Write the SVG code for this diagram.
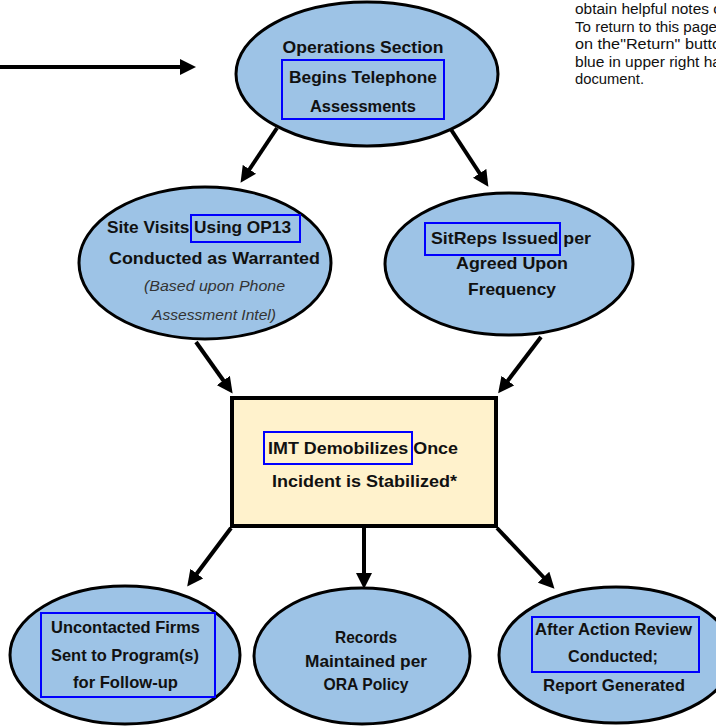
<svg xmlns="http://www.w3.org/2000/svg" width="716" height="727" viewBox="0 0 716 727">
<defs>
<style>
.ell{fill:#9DC3E6;stroke:#000;stroke-width:3}
.box{fill:#FFF2CC;stroke:#000;stroke-width:4}
.hl{fill:none;stroke:#0000FF;stroke-width:2}
.t{font-family:"Liberation Sans",Arial,sans-serif;font-weight:bold;font-size:16.5px;fill:#111;text-anchor:middle}
.ti{font-family:"Liberation Sans",Arial,sans-serif;font-style:italic;font-size:15px;fill:#333;text-anchor:middle}
.note{font-family:"Liberation Sans",Arial,sans-serif;font-size:14px;fill:#111}
.c{stroke:#000;stroke-width:4;fill:none;marker-end:url(#ah)}
</style>
<marker id="ah" markerWidth="4" markerHeight="4" refX="2" refY="2" orient="auto" markerUnits="strokeWidth">
<path d="M0,0 L4,2 L0,4 Z" fill="#000"/>
</marker>
</defs>
<rect width="716" height="727" fill="#fff"/>

<g id="note">
<text class="note" x="575" y="14" textLength="146" lengthAdjust="spacingAndGlyphs">obtain helpful notes c</text>
<text class="note" x="575" y="31.5" textLength="142" lengthAdjust="spacingAndGlyphs">To return to this page</text>
<text class="note" x="575" y="49" textLength="146" lengthAdjust="spacingAndGlyphs">on the"Return" butto</text>
<text class="note" x="575" y="66.5" textLength="146" lengthAdjust="spacingAndGlyphs">blue in upper right ha</text>
<text class="note" x="575" y="84" textLength="69" lengthAdjust="spacingAndGlyphs">document.</text>
</g>

<g id="connectors">
<line class="c" x1="0" y1="67" x2="188" y2="67"/>
<line class="c" x1="277" y1="128" x2="245" y2="176"/>
<line class="c" x1="450" y1="128" x2="484" y2="180"/>
<line class="c" x1="196" y1="342" x2="228" y2="387"/>
<line class="c" x1="541" y1="337" x2="503" y2="387"/>
<line class="c" x1="231" y1="528" x2="192" y2="580"/>
<line class="c" x1="364" y1="528" x2="364" y2="581"/>
<line class="c" x1="497" y1="528" x2="549" y2="583"/>
</g>

<g id="ops">
<ellipse class="ell" cx="367" cy="74" rx="131" ry="72"/>
<text class="t" x="363" y="53" textLength="161" lengthAdjust="spacingAndGlyphs">Operations Section</text>
<rect class="hl" x="282" y="60" width="162" height="59"/>
<text class="t" x="363" y="83" textLength="148" lengthAdjust="spacingAndGlyphs">Begins Telephone</text>
<text class="t" x="363" y="112" textLength="106" lengthAdjust="spacingAndGlyphs">Assessments</text>
</g>

<g id="sitevisits">
<ellipse class="ell" cx="205" cy="263" rx="126" ry="76"/>
<rect class="hl" x="191" y="215" width="109" height="27"/>
<text class="t" x="199" y="233" textLength="184" lengthAdjust="spacingAndGlyphs">Site Visits Using OP13</text>
<text class="t" x="214.5" y="264" textLength="211" lengthAdjust="spacingAndGlyphs">Conducted as Warranted</text>
<text class="ti" x="214.5" y="291" textLength="141" lengthAdjust="spacingAndGlyphs">(Based upon  Phone</text>
<text class="ti" x="214" y="320" textLength="124" lengthAdjust="spacingAndGlyphs">Assessment Intel)</text>
</g>

<g id="sitreps">
<ellipse class="ell" cx="509" cy="264" rx="124" ry="71"/>
<rect class="hl" x="425" y="223" width="135" height="32"/>
<text class="t" x="511" y="244" textLength="160" lengthAdjust="spacingAndGlyphs">SitReps Issued  per</text>
<text class="t" x="512" y="269" textLength="112" lengthAdjust="spacingAndGlyphs">Agreed Upon</text>
<text class="t" x="512" y="295" textLength="88" lengthAdjust="spacingAndGlyphs">Frequency</text>
</g>

<g id="imt">
<rect class="box" x="232" y="398" width="264" height="128"/>
<rect class="hl" x="264" y="432" width="148" height="32"/>
<text class="t" x="363" y="454" textLength="190" lengthAdjust="spacingAndGlyphs">IMT Demobilizes Once</text>
<text class="t" x="364.5" y="487" textLength="185" lengthAdjust="spacingAndGlyphs">Incident is Stabilized*</text>
</g>

<g id="uncontacted">
<ellipse class="ell" cx="125" cy="655" rx="115" ry="69"/>
<rect class="hl" x="41" y="613" width="174" height="84"/>
<text class="t" x="125.5" y="633" textLength="149" lengthAdjust="spacingAndGlyphs">Uncontacted Firms</text>
<text class="t" x="125" y="661" textLength="148" lengthAdjust="spacingAndGlyphs">Sent to Program(s)</text>
<text class="t" x="125.5" y="688" textLength="105" lengthAdjust="spacingAndGlyphs">for Follow-up</text>
</g>

<g id="records">
<ellipse class="ell" cx="362" cy="656" rx="108" ry="68"/>
<text class="t" x="366" y="643" textLength="62" lengthAdjust="spacingAndGlyphs">Records</text>
<text class="t" x="366" y="667" textLength="122" lengthAdjust="spacingAndGlyphs">Maintained per</text>
<text class="t" x="366" y="690" textLength="85" lengthAdjust="spacingAndGlyphs">ORA Policy</text>
</g>

<g id="aar">
<ellipse class="ell" cx="616" cy="655" rx="117" ry="68"/>
<rect class="hl" x="532" y="617" width="167" height="55"/>
<text class="t" x="613.5" y="635" textLength="157" lengthAdjust="spacingAndGlyphs">After Action Review</text>
<text class="t" x="613" y="662" textLength="90" lengthAdjust="spacingAndGlyphs">Conducted;</text>
<text class="t" x="614" y="691" textLength="142" lengthAdjust="spacingAndGlyphs">Report Generated</text>
</g>
</svg>
